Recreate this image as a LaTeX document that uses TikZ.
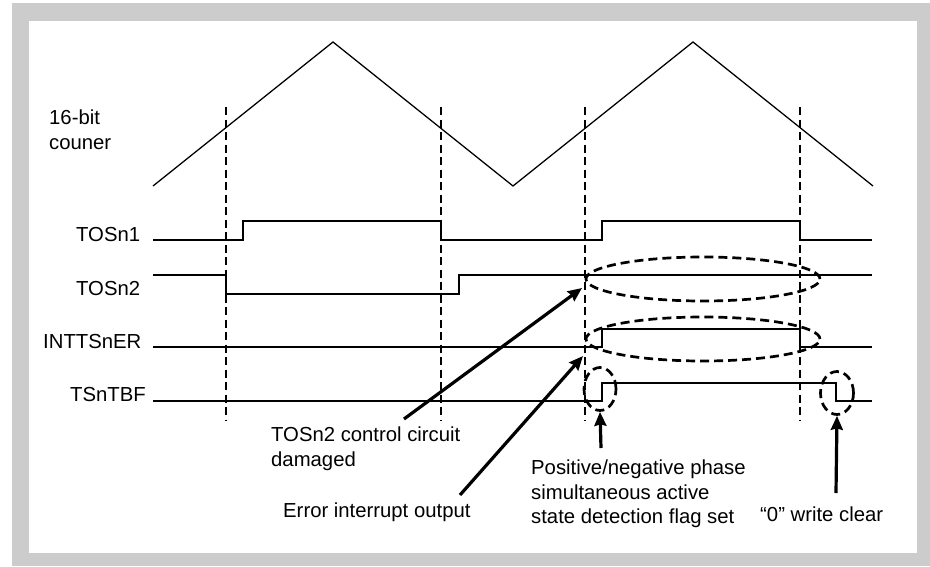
\documentclass[tikz,border=0pt]{standalone}
\usepackage{fontspec}
\setmainfont{Liberation Sans}
\usetikzlibrary{positioning, shapes.geometric, arrows.meta}
\definecolor{framegray}{HTML}{CCCCCC}

\begin{document}
\begin{tikzpicture}[x=1pt, y=-1pt,
          sig/.style={line width=1.3pt},
          guide/.style={line width=2.8pt, dash pattern=on 8pt off 4.5pt},
          ring/.style={ellipse, draw, line width=2.7pt, dash pattern=on 9pt off 5pt, inner sep=0pt},
          callout/.style={-{Stealth[length=14pt, width=12pt, inset=1.5pt]}, line width=3.2pt},
          signame/.style={font=\fontsize{20.3}{24.5}\selectfont, anchor=base west, inner sep=0pt},
          note/.style={font=\fontsize{20.3}{24.5}\selectfont, align=left, anchor=north west, inner sep=0pt}
        ]
        \useasboundingbox (0,0) rectangle (930,566);
        \fill[framegray] (12,3) rectangle (930,566);
        \fill[white] (29,21) rectangle (917,553);
        % counter
        \draw[sig] (153,186) -- (333,42) -- (513,186) -- (693,42) -- (873,186);
        \node[note] (cnt) at (49,110) {16-bit\\couner};
        % guides
        \foreach \gx [count=\i] in {226,441,585,800} {
          \draw[guide] (\gx,107) coordinate (gtop\i) -- (\gx,421) coordinate (gbot\i);
        }
        % signals
        \node[signame] (tos1) at (76,241) {TOSn1};
        \node[signame] (tos2) at (76,295) {TOSn2};
        \node[signame] (intr) at (43,348) {INTTSnER};
        \node[signame] (tbf) at (70,401) {TSnTBF};
        \draw[sig] (153,240) -| (243,221) -| (441,240) -| (602,221) -| (800,240) -- (872,240);
        \draw[sig] (153,275) -| (226,294) -| (459,275) -- (872,275);
        \draw[sig] (153,347) -| (602,329) -| (800,347) -- (872,347);
        \draw[sig] (153,401) -| (602,383) -| (836,401) -- (872,401);
        % rings
        \node[ring, minimum width=234pt, minimum height=44pt] (ring1) at (703,279) {};
        \node[ring, minimum width=234pt, minimum height=44pt] (ring2) at (703,339) {};
        \node[ring, minimum width=32pt, minimum height=43pt] (ring3) at (600,389) {};
        \node[ring, minimum width=33pt, minimum height=43pt] (ring4) at (837,393) {};
        % notes
        \node[note] (dmgnote) at (271,427) {TOSn2 control circuit\\damaged};
        \node[note] (errnote) at (283,503) {Error interrupt output};
        \node[note] (flagnote) at (531,460) {Positive/negative phase\\simultaneous active\\state detection flag set};
        \node[note] (clrnote) at (760,507) {``0'' write clear};
        \coordinate (dmgtail) at (404,419);
        \coordinate (dmgtip) at (582,288);
        \coordinate (errtail) at (460,495);
        \coordinate (errtip) at (583,356);
        \coordinate (flagtail) at (601,448);
        \coordinate (clrtail) at (836,493);
        \draw[callout] (dmgtail) -- (dmgtip);
        \draw[callout] (errtail) -- (errtip);
        \draw[callout] (flagtail) -- (ring3.south);
        \draw[callout] (clrtail) -- (ring4.south);
      \end{tikzpicture}
\end{document}
